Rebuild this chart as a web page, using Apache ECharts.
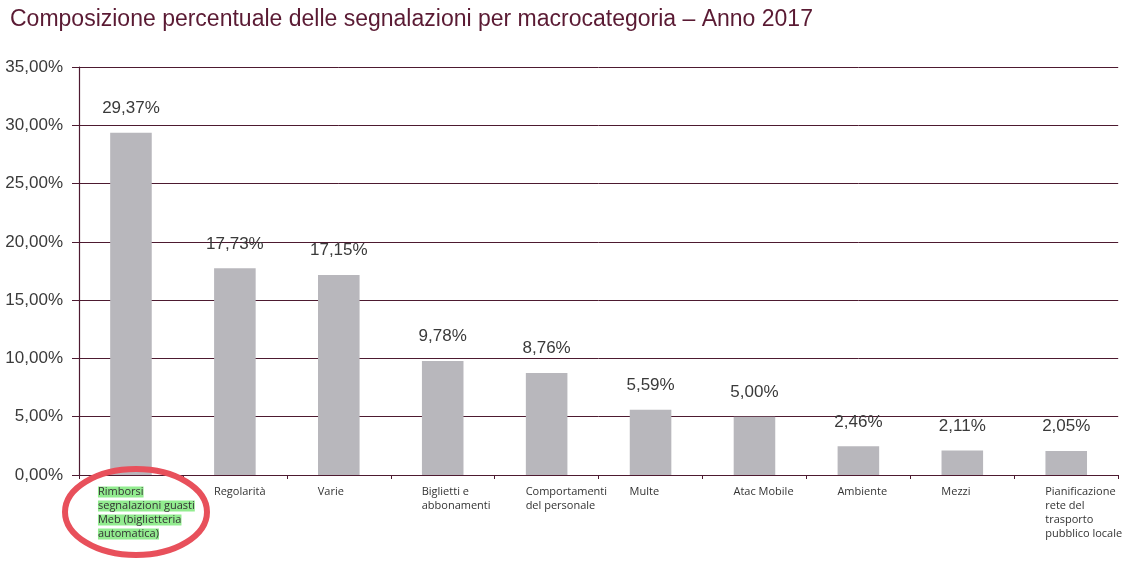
<!DOCTYPE html>
<html>
<head>
<meta charset="utf-8">
<script src="https://cdn.jsdelivr.net/npm/echarts@6/dist/echarts.min.js"></script>
<style>
html,body{margin:0;padding:0;background:#fff;}
#chart{width:1125px;height:583px;}
</style>
</head>
<body>
<div id="chart"></div>
<script>
const titleText = 'Composizione percentuale delle segnalazioni per macrocategoria – Anno 2017';
const categories = [
  'Rimborsi\nsegnalazioni guasti\nMeb (biglietteria\nautomatica)',
  'Regolarità',
  'Varie',
  'Biglietti e\nabbonamenti',
  'Comportamenti\ndel personale',
  'Multe',
  'Atac Mobile',
  'Ambiente',
  'Mezzi',
  'Pianificazione\nrete del\ntrasporto\npubblico locale'
];
const values = [29.37, 17.73, 17.15, 9.78, 8.76, 5.59, 5.00, 2.46, 2.11, 2.05];
const yMin = 0, yMax = 35, yStep = 5;
const highlighted = [0];

const fmt = v => v.toFixed(2).replace('.', ',') + '%';
const maroon = '#4d1a30';

const chart = echarts.init(document.getElementById('chart'), null, {renderer: 'canvas'});
chart.setOption({
  backgroundColor: '#ffffff',
  animation: false,
  title: {
    text: titleText,
    left: 5, top: 3,
    textStyle: {fontFamily: 'Liberation Sans', fontSize: 23, fontWeight: 'normal', color: '#5a1a33'}
  },
  grid: {left: 79, right: 3, top: 67, bottom: 108, containLabel: false},
  xAxis: {
    type: 'category',
    data: categories.map((c, i) => highlighted.includes(i)
      ? {value: c, textStyle: {align: 'left', padding: [0, 0, 0, -33]}}
      : c),
    axisLine: {show: true, lineStyle: {color: maroon, width: 1.2}},
    axisTick: {show: true, length: 4, lineStyle: {color: maroon}},
    axisLabel: {
      interval: 0,
      margin: 10,
      align: 'left',
      padding: [0, 0, 0, -21],
      fontFamily: 'Open Sans',
      fontSize: 11,
      lineHeight: 14,
      color: '#333',
      formatter: (val, idx) => {
        if (highlighted.includes(idx)) {
          return val.split('\n').map(s => '{hl|' + s + '}').join('\n');
        }
        return val;
      },
      rich: {
        hl: {align: 'left', backgroundColor: '#92ec8f', fontFamily: 'Open Sans', fontSize: 11, lineHeight: 14, color: '#333'}
      }
    }
  },
  yAxis: {
    type: 'value',
    min: yMin, max: yMax, interval: yStep,
    axisLine: {show: true, lineStyle: {color: maroon, width: 1.2}},
    axisTick: {show: true, length: 7, lineStyle: {color: maroon}},
    splitLine: {show: true, lineStyle: {color: maroon, width: 1}},
    axisLabel: {
      margin: 16,
      fontFamily: 'Liberation Sans',
      fontSize: 17,
      color: '#3a3a3a',
      formatter: v => v.toFixed(2).replace('.', ',') + '%'
    }
  },
  series: [{
    type: 'bar',
    data: values,
    barWidth: '40%',
    itemStyle: {color: '#b8b7bc'},
    label: {
      show: true,
      position: 'top',
      distance: 16,
      fontFamily: 'Liberation Sans',
      fontSize: 17,
      color: '#3a3a3a',
      formatter: p => fmt(p.value)
    }
  }],
  graphic: [{
    type: 'ellipse',
    shape: {cx: 136, cy: 512, rx: 71, ry: 43},
    style: {fill: 'none', stroke: '#e8505b', lineWidth: 6},
    z: 100
  }]
});
</script>
</body>
</html>
